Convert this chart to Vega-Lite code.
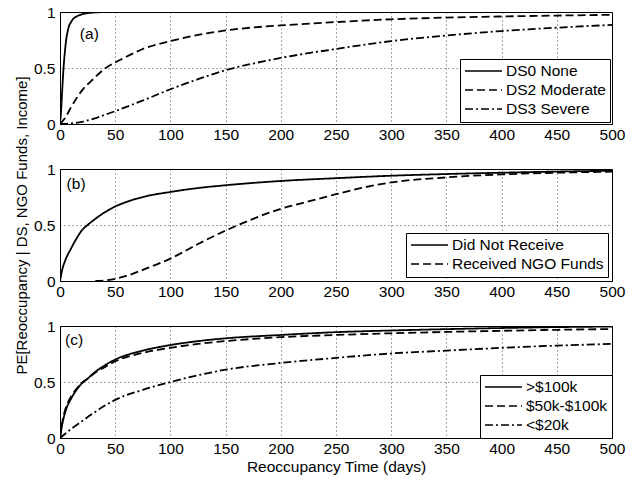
{
  "$schema": "https://vega.github.io/schema/vega-lite/v6.json",
  "background": "white",
  "padding": {"left": 13, "top": 4, "right": 5, "bottom": 5},
  "spacing": 45,
  "bounds": "flush",
  "config": {
    "font": "Liberation Sans",
    "view": {"stroke": "black", "strokeWidth": 1},
    "axis": {
      "labelFont": "Liberation Sans",
      "labelFontSize": 15.5,
      "labelColor": "black",
      "labelFlush": false,
      "labelOverlap": false,
      "titleFont": "Liberation Sans",
      "titleFontSize": 15.5,
      "titleFontWeight": "normal",
      "titleColor": "black",
      "domainColor": "black",
      "ticks": false,
      "gridColor": "black",
      "gridDash": [1, 3],
      "gridOpacity": 0.7,
      "gridWidth": 1
    },
    "axisX": {"labelPadding": 3, "titlePadding": 3},
    "axisY": {"labelPadding": 5, "titlePadding": 4},
    "legend": {
      "title": null,
      "orient": "bottom-right",
      "strokeColor": "black",
      "fillColor": "white",
      "padding": 4,
      "labelFont": "Liberation Sans",
      "labelFontSize": 15.5,
      "labelColor": "black",
      "labelOffset": 3,
      "symbolType": "stroke",
      "symbolSize": 1369,
      "symbolStrokeWidth": 1.6,
      "symbolStrokeColor": "black",
      "clipHeight": 16,
      "rowPadding": 2,
      "cornerRadius": 0
    }
  },
  "resolve": {"scale": {"strokeDash": "independent"}, "legend": {"strokeDash": "independent"}},
  "datasets": {
    "a": [
      {"day": 0, "p": 0, "series": "DS0 None"},
      {"day": 1, "p": 0.12, "series": "DS0 None"},
      {"day": 2, "p": 0.3, "series": "DS0 None"},
      {"day": 3, "p": 0.47, "series": "DS0 None"},
      {"day": 4, "p": 0.6, "series": "DS0 None"},
      {"day": 5, "p": 0.7, "series": "DS0 None"},
      {"day": 6, "p": 0.78, "series": "DS0 None"},
      {"day": 7, "p": 0.83, "series": "DS0 None"},
      {"day": 8, "p": 0.87, "series": "DS0 None"},
      {"day": 10, "p": 0.91, "series": "DS0 None"},
      {"day": 12, "p": 0.94, "series": "DS0 None"},
      {"day": 15, "p": 0.96, "series": "DS0 None"},
      {"day": 20, "p": 0.98, "series": "DS0 None"},
      {"day": 25, "p": 0.99, "series": "DS0 None"},
      {"day": 30, "p": 0.995, "series": "DS0 None"},
      {"day": 40, "p": 0.999, "series": "DS0 None"},
      {"day": 56, "p": 1.0, "series": "DS0 None"},
      {"day": 0, "p": 0, "series": "DS2 Moderate"},
      {"day": 5, "p": 0.06, "series": "DS2 Moderate"},
      {"day": 10, "p": 0.15, "series": "DS2 Moderate"},
      {"day": 15, "p": 0.23, "series": "DS2 Moderate"},
      {"day": 20, "p": 0.3, "series": "DS2 Moderate"},
      {"day": 30, "p": 0.4, "series": "DS2 Moderate"},
      {"day": 40, "p": 0.49, "series": "DS2 Moderate"},
      {"day": 50, "p": 0.55, "series": "DS2 Moderate"},
      {"day": 60, "p": 0.6, "series": "DS2 Moderate"},
      {"day": 75, "p": 0.67, "series": "DS2 Moderate"},
      {"day": 100, "p": 0.74, "series": "DS2 Moderate"},
      {"day": 125, "p": 0.795, "series": "DS2 Moderate"},
      {"day": 150, "p": 0.835, "series": "DS2 Moderate"},
      {"day": 175, "p": 0.862, "series": "DS2 Moderate"},
      {"day": 200, "p": 0.88, "series": "DS2 Moderate"},
      {"day": 250, "p": 0.91, "series": "DS2 Moderate"},
      {"day": 300, "p": 0.935, "series": "DS2 Moderate"},
      {"day": 350, "p": 0.95, "series": "DS2 Moderate"},
      {"day": 400, "p": 0.96, "series": "DS2 Moderate"},
      {"day": 450, "p": 0.968, "series": "DS2 Moderate"},
      {"day": 500, "p": 0.975, "series": "DS2 Moderate"},
      {"day": 0, "p": 0, "series": "DS3 Severe"},
      {"day": 10, "p": 0.005, "series": "DS3 Severe"},
      {"day": 20, "p": 0.02, "series": "DS3 Severe"},
      {"day": 30, "p": 0.045, "series": "DS3 Severe"},
      {"day": 40, "p": 0.08, "series": "DS3 Severe"},
      {"day": 50, "p": 0.115, "series": "DS3 Severe"},
      {"day": 75, "p": 0.21, "series": "DS3 Severe"},
      {"day": 100, "p": 0.31, "series": "DS3 Severe"},
      {"day": 125, "p": 0.4, "series": "DS3 Severe"},
      {"day": 150, "p": 0.48, "series": "DS3 Severe"},
      {"day": 175, "p": 0.54, "series": "DS3 Severe"},
      {"day": 200, "p": 0.59, "series": "DS3 Severe"},
      {"day": 250, "p": 0.67, "series": "DS3 Severe"},
      {"day": 300, "p": 0.74, "series": "DS3 Severe"},
      {"day": 350, "p": 0.79, "series": "DS3 Severe"},
      {"day": 400, "p": 0.83, "series": "DS3 Severe"},
      {"day": 450, "p": 0.86, "series": "DS3 Severe"},
      {"day": 500, "p": 0.885, "series": "DS3 Severe"}
    ],
    "b": [
      {"day": 0, "p": 0, "series": "Did Not Receive"},
      {"day": 2, "p": 0.1, "series": "Did Not Receive"},
      {"day": 5, "p": 0.19, "series": "Did Not Receive"},
      {"day": 10, "p": 0.29, "series": "Did Not Receive"},
      {"day": 15, "p": 0.38, "series": "Did Not Receive"},
      {"day": 20, "p": 0.455, "series": "Did Not Receive"},
      {"day": 25, "p": 0.5, "series": "Did Not Receive"},
      {"day": 30, "p": 0.54, "series": "Did Not Receive"},
      {"day": 40, "p": 0.61, "series": "Did Not Receive"},
      {"day": 50, "p": 0.665, "series": "Did Not Receive"},
      {"day": 60, "p": 0.705, "series": "Did Not Receive"},
      {"day": 75, "p": 0.75, "series": "Did Not Receive"},
      {"day": 100, "p": 0.795, "series": "Did Not Receive"},
      {"day": 125, "p": 0.83, "series": "Did Not Receive"},
      {"day": 150, "p": 0.855, "series": "Did Not Receive"},
      {"day": 200, "p": 0.893, "series": "Did Not Receive"},
      {"day": 250, "p": 0.918, "series": "Did Not Receive"},
      {"day": 300, "p": 0.94, "series": "Did Not Receive"},
      {"day": 350, "p": 0.955, "series": "Did Not Receive"},
      {"day": 400, "p": 0.967, "series": "Did Not Receive"},
      {"day": 450, "p": 0.977, "series": "Did Not Receive"},
      {"day": 500, "p": 0.985, "series": "Did Not Receive"},
      {"day": 32, "p": 0, "series": "Received NGO Funds"},
      {"day": 40, "p": 0.005, "series": "Received NGO Funds"},
      {"day": 50, "p": 0.02, "series": "Received NGO Funds"},
      {"day": 60, "p": 0.045, "series": "Received NGO Funds"},
      {"day": 75, "p": 0.1, "series": "Received NGO Funds"},
      {"day": 100, "p": 0.2, "series": "Received NGO Funds"},
      {"day": 125, "p": 0.33, "series": "Received NGO Funds"},
      {"day": 150, "p": 0.45, "series": "Received NGO Funds"},
      {"day": 175, "p": 0.555, "series": "Received NGO Funds"},
      {"day": 200, "p": 0.645, "series": "Received NGO Funds"},
      {"day": 225, "p": 0.71, "series": "Received NGO Funds"},
      {"day": 250, "p": 0.775, "series": "Received NGO Funds"},
      {"day": 275, "p": 0.835, "series": "Received NGO Funds"},
      {"day": 300, "p": 0.88, "series": "Received NGO Funds"},
      {"day": 350, "p": 0.925, "series": "Received NGO Funds"},
      {"day": 400, "p": 0.952, "series": "Received NGO Funds"},
      {"day": 450, "p": 0.967, "series": "Received NGO Funds"},
      {"day": 500, "p": 0.976, "series": "Received NGO Funds"}
    ],
    "c": [
      {"day": 0, "p": 0, "series": ">$100k"},
      {"day": 2, "p": 0.12, "series": ">$100k"},
      {"day": 5, "p": 0.24, "series": ">$100k"},
      {"day": 10, "p": 0.35, "series": ">$100k"},
      {"day": 15, "p": 0.43, "series": ">$100k"},
      {"day": 20, "p": 0.49, "series": ">$100k"},
      {"day": 25, "p": 0.53, "series": ">$100k"},
      {"day": 30, "p": 0.575, "series": ">$100k"},
      {"day": 40, "p": 0.645, "series": ">$100k"},
      {"day": 50, "p": 0.7, "series": ">$100k"},
      {"day": 75, "p": 0.78, "series": ">$100k"},
      {"day": 100, "p": 0.83, "series": ">$100k"},
      {"day": 125, "p": 0.865, "series": ">$100k"},
      {"day": 150, "p": 0.89, "series": ">$100k"},
      {"day": 200, "p": 0.92, "series": ">$100k"},
      {"day": 250, "p": 0.945, "series": ">$100k"},
      {"day": 300, "p": 0.96, "series": ">$100k"},
      {"day": 350, "p": 0.972, "series": ">$100k"},
      {"day": 400, "p": 0.982, "series": ">$100k"},
      {"day": 450, "p": 0.99, "series": ">$100k"},
      {"day": 500, "p": 0.995, "series": ">$100k"},
      {"day": 0, "p": 0, "series": "$50k-$100k"},
      {"day": 2, "p": 0.14, "series": "$50k-$100k"},
      {"day": 5, "p": 0.26, "series": "$50k-$100k"},
      {"day": 10, "p": 0.37, "series": "$50k-$100k"},
      {"day": 15, "p": 0.44, "series": "$50k-$100k"},
      {"day": 20, "p": 0.495, "series": "$50k-$100k"},
      {"day": 25, "p": 0.53, "series": "$50k-$100k"},
      {"day": 30, "p": 0.57, "series": "$50k-$100k"},
      {"day": 40, "p": 0.63, "series": "$50k-$100k"},
      {"day": 50, "p": 0.685, "series": "$50k-$100k"},
      {"day": 75, "p": 0.76, "series": "$50k-$100k"},
      {"day": 100, "p": 0.805, "series": "$50k-$100k"},
      {"day": 125, "p": 0.84, "series": "$50k-$100k"},
      {"day": 150, "p": 0.865, "series": "$50k-$100k"},
      {"day": 200, "p": 0.9, "series": "$50k-$100k"},
      {"day": 250, "p": 0.92, "series": "$50k-$100k"},
      {"day": 300, "p": 0.935, "series": "$50k-$100k"},
      {"day": 350, "p": 0.947, "series": "$50k-$100k"},
      {"day": 400, "p": 0.957, "series": "$50k-$100k"},
      {"day": 450, "p": 0.966, "series": "$50k-$100k"},
      {"day": 500, "p": 0.973, "series": "$50k-$100k"},
      {"day": 0, "p": 0, "series": "<$20k"},
      {"day": 5, "p": 0.04, "series": "<$20k"},
      {"day": 10, "p": 0.08, "series": "<$20k"},
      {"day": 20, "p": 0.15, "series": "<$20k"},
      {"day": 30, "p": 0.22, "series": "<$20k"},
      {"day": 40, "p": 0.285, "series": "<$20k"},
      {"day": 50, "p": 0.34, "series": "<$20k"},
      {"day": 75, "p": 0.43, "series": "<$20k"},
      {"day": 100, "p": 0.5, "series": "<$20k"},
      {"day": 125, "p": 0.56, "series": "<$20k"},
      {"day": 150, "p": 0.61, "series": "<$20k"},
      {"day": 200, "p": 0.67, "series": "<$20k"},
      {"day": 250, "p": 0.715, "series": "<$20k"},
      {"day": 300, "p": 0.755, "series": "<$20k"},
      {"day": 350, "p": 0.78, "series": "<$20k"},
      {"day": 400, "p": 0.805, "series": "<$20k"},
      {"day": 450, "p": 0.825, "series": "<$20k"},
      {"day": 500, "p": 0.84, "series": "<$20k"}
    ]
  },
  "vconcat": [
    {
      "width": 552,
      "height": 112,
      "layer": [
        {
          "data": {"name": "a"},
          "mark": {"type": "line", "color": "black", "strokeWidth": 1.8, "interpolate": "monotone", "clip": true},
          "encoding": {
            "x": {"field": "day", "type": "quantitative", "scale": {"domain": [0, 500], "nice": false}, "axis": {"values": [0, 50, 100, 150, 200, 250, 300, 350, 400, 450, 500], "title": null}},
            "y": {"field": "p", "type": "quantitative", "scale": {"domain": [0, 1], "nice": false}, "axis": {"values": [0, 0.5, 1], "format": "~g", "title": null}},
            "strokeDash": {"field": "series", "type": "nominal", "scale": {"domain": ["DS0 None", "DS2 Moderate", "DS3 Severe"], "range": [[1, 0], [8, 4], [8, 3, 2, 3]]}, "legend": {"offset": 2}}
          }
        },
        {
          "data": {"values": [{"day": 18, "p": 0.8, "label": "(a)"}]},
          "mark": {"type": "text", "align": "left", "baseline": "middle", "fontSize": 15.5, "font": "Liberation Sans", "color": "black"},
          "encoding": {
            "x": {"field": "day", "type": "quantitative"},
            "y": {"field": "p", "type": "quantitative"},
            "text": {"field": "label"}
          }
        }
      ]
    },
    {
      "width": 552,
      "height": 112,
      "layer": [
        {
          "data": {"name": "b"},
          "mark": {"type": "line", "color": "black", "strokeWidth": 1.8, "interpolate": "monotone", "clip": true},
          "encoding": {
            "x": {"field": "day", "type": "quantitative", "scale": {"domain": [0, 500], "nice": false}, "axis": {"values": [0, 50, 100, 150, 200, 250, 300, 350, 400, 450, 500], "title": null}},
            "y": {"field": "p", "type": "quantitative", "scale": {"domain": [0, 1], "nice": false}, "axis": {"values": [0, 0.5, 1], "format": "~g", "title": "PE[Reoccupancy | DS, NGO Funds, Income]", "titleFontSize": 15}},
            "strokeDash": {"field": "series", "type": "nominal", "scale": {"domain": ["Did Not Receive", "Received NGO Funds"], "range": [[1, 0], [8, 4]]}, "legend": {"offset": 4}}
          }
        },
        {
          "data": {"values": [{"day": 6, "p": 0.866, "label": "(b)"}]},
          "mark": {"type": "text", "align": "left", "baseline": "middle", "fontSize": 15.5, "font": "Liberation Sans", "color": "black"},
          "encoding": {
            "x": {"field": "day", "type": "quantitative"},
            "y": {"field": "p", "type": "quantitative"},
            "text": {"field": "label"}
          }
        }
      ]
    },
    {
      "width": 552,
      "height": 112,
      "layer": [
        {
          "data": {"name": "c"},
          "mark": {"type": "line", "color": "black", "strokeWidth": 1.8, "interpolate": "monotone", "clip": true},
          "encoding": {
            "x": {"field": "day", "type": "quantitative", "scale": {"domain": [0, 500], "nice": false}, "axis": {"values": [0, 50, 100, 150, 200, 250, 300, 350, 400, 450, 500], "title": "Reoccupancy Time (days)"}},
            "y": {"field": "p", "type": "quantitative", "scale": {"domain": [0, 1], "nice": false}, "axis": {"values": [0, 0.5, 1], "format": "~g", "title": null}},
            "strokeDash": {"field": "series", "type": "nominal", "scale": {"domain": [">$100k", "$50k-$100k", "<$20k"], "range": [[1, 0], [8, 4], [8, 3, 2, 3]]}, "legend": {"offset": 0}}
          }
        },
        {
          "data": {"values": [{"day": 4.5, "p": 0.875, "label": "(c)"}]},
          "mark": {"type": "text", "align": "left", "baseline": "middle", "fontSize": 15.5, "font": "Liberation Sans", "color": "black"},
          "encoding": {
            "x": {"field": "day", "type": "quantitative"},
            "y": {"field": "p", "type": "quantitative"},
            "text": {"field": "label"}
          }
        }
      ]
    }
  ]
}
